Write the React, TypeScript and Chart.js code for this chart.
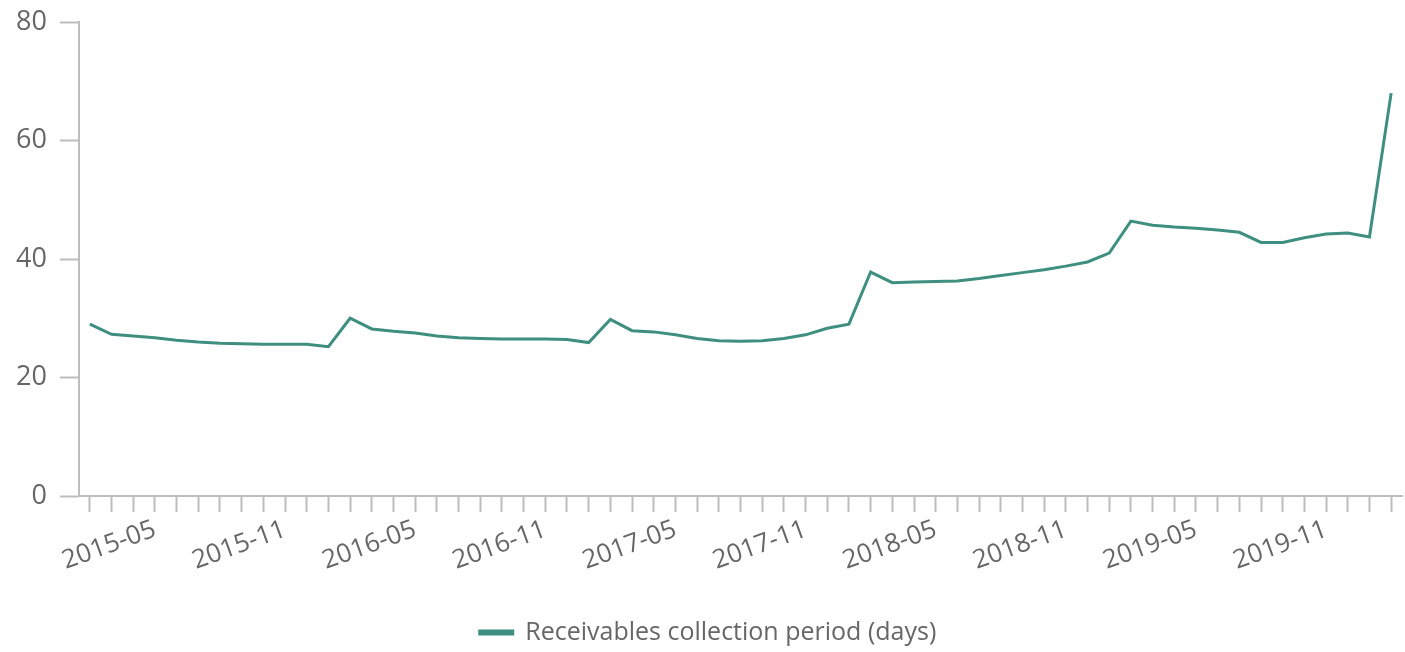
import { useEffect, useRef } from "react";
import { Chart, registerables } from "chart.js";

Chart.register(...registerables);

// monthly periods, Feb 2015 .. Feb 2020
const months = [
  "2015-02", "2015-03", "2015-04", "2015-05", "2015-06", "2015-07", "2015-08", "2015-09", "2015-10", "2015-11", "2015-12",
  "2016-01", "2016-02", "2016-03", "2016-04", "2016-05", "2016-06", "2016-07", "2016-08", "2016-09", "2016-10", "2016-11", "2016-12",
  "2017-01", "2017-02", "2017-03", "2017-04", "2017-05", "2017-06", "2017-07", "2017-08", "2017-09", "2017-10", "2017-11", "2017-12",
  "2018-01", "2018-02", "2018-03", "2018-04", "2018-05", "2018-06", "2018-07", "2018-08", "2018-09", "2018-10", "2018-11", "2018-12",
  "2019-01", "2019-02", "2019-03", "2019-04", "2019-05", "2019-06", "2019-07", "2019-08", "2019-09", "2019-10", "2019-11", "2019-12",
  "2020-01", "2020-02",
];

// only every sixth month gets a label
const shownLabels = ["2015-05", "2015-11", "2016-05", "2016-11", "2017-05", "2017-11", "2018-05", "2018-11", "2019-05", "2019-11"];

const collectionDays = [
  29.0, 27.3, 27.0, 26.7, 26.3, 26.0, 25.8, 25.7, 25.6, 25.6, 25.6, 25.2,
  30.0, 28.2, 27.8, 27.5, 27.0, 26.7, 26.6, 26.5, 26.5, 26.5, 26.4, 25.9,
  29.8, 27.9, 27.7, 27.2, 26.6, 26.2, 26.1, 26.2, 26.6, 27.2, 28.3, 29.0,
  37.8, 36.0, 36.1, 36.2, 36.3, 36.7, 37.2, 37.7, 38.2, 38.8, 39.5, 41.0,
  46.4, 45.7, 45.4, 45.2, 44.9, 44.5, 42.8, 42.8, 43.6, 44.2, 44.4, 43.7,
  68.0,
];

const yTicks = [0, 20, 40, 60, 80];

const LINE = "#3f8f80";
const AXIS = "#bdbdbd";
const TEXT = "#666666";

export default function App() {
  const canvasRef = useRef<HTMLCanvasElement | null>(null);
  const chartRef = useRef<Chart | null>(null);

  useEffect(() => {
    document.body.style.margin = "0";
    if (!canvasRef.current) return;
    if (chartRef.current) chartRef.current.destroy();

    Chart.defaults.font.family = "'Open Sans', sans-serif";

    chartRef.current = new Chart(canvasRef.current, {
      type: "line",
      data: {
        labels: months,
        datasets: [
          {
            label: "Receivables collection period (days)",
            data: collectionDays,
            borderColor: LINE,
            backgroundColor: LINE,
            borderWidth: 3,
            pointRadius: 0,
            tension: 0,
          },
        ],
      },
      options: {
        animation: false,
        responsive: true,
        maintainAspectRatio: false,
        layout: { padding: { top: 22, right: 3, bottom: -3, left: 14 } },
        plugins: {
          tooltip: { enabled: false },
          legend: {
            position: "bottom",
            labels: {
              color: TEXT,
              boxWidth: 33,
              boxHeight: 3,
              padding: 3,
              font: { size: 25 },
            },
          },
        },
        scales: {
          x: {
            offset: true,
            border: { color: AXIS, width: 2 },
            grid: {
              drawOnChartArea: false,
              offset: false,
              tickLength: 16,
              tickColor: AXIS,
              tickWidth: 2,
            },
            ticks: {
              autoSkip: false,
              maxRotation: 20,
              minRotation: 20,
              padding: 2,
              color: TEXT,
              font: { size: 26 },
              callback: (_v, i) => (shownLabels.includes(months[i]) ? months[i] : ""),
            },
            afterFit: (scale) => {
              scale.height = 121;
            },
          },
          y: {
            min: 0,
            max: 80,
            border: { color: AXIS, width: 2 },
            grid: {
              drawOnChartArea: false,
              tickLength: 19,
              tickColor: AXIS,
              tickWidth: 2,
            },
            afterBuildTicks: (scale) => {
              scale.ticks = yTicks.map((v) => ({ value: v }));
            },
            ticks: {
              padding: 13,
              color: TEXT,
              font: { size: 27 },
            },
            afterFit: (scale) => {
              scale.width = 65;
              scale.paddingTop = 0;
            },
          },
        },
      },
    });

    return () => {
      if (chartRef.current) {
        chartRef.current.destroy();
        chartRef.current = null;
      }
    };
  }, []);

  return (
    <div style={{ position: "relative", width: 1405, height: 652 }}>
      <canvas ref={canvasRef} />
    </div>
  );
}
